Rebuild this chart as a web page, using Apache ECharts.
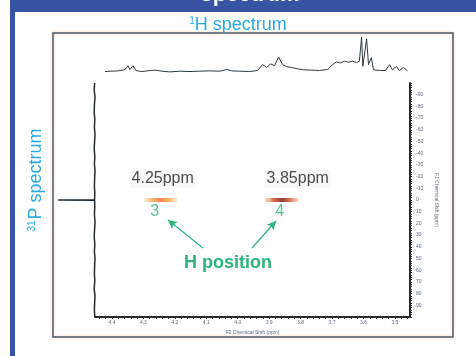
<!DOCTYPE html>
<html lang="en">
<head>
  <meta charset="UTF-8">
  <title>HP spectrum</title>
  <script src="https://cdn.jsdelivr.net/npm/echarts@6/dist/echarts.min.js"></script>
  <style>
    body { margin: 0; background: #fff; }
  </style>
</head>
<body>
  <div id="app" style="width: 476px; height: 356px;"></div>
  <script>
    // tick labels
    var xTicks = [4.4, 4.3, 4.2, 4.1, 4.0, 3.9, 3.8, 3.7, 3.6, 3.5]
    var yTicks = [-90, -80, -70, -60, -50, -40, -30, -20, -10, 0, 10, 20, 30, 40, 50, 60, 70, 80, 90]

    // 1H projection (F2 ppm, intensity)
    var topSpec = [
      [4.422, 0], [4.406, 0.01], [4.381, 0.02], [4.359, 0.05], [4.349, 0.17], [4.343, 0.06],
      [4.333, 0.17], [4.324, 0.03], [4.305, 0], [4.279, 0.03], [4.263, 0.04], [4.241, 0.01],
      [4.216, -0.01], [4.184, 0.01], [4.152, 0], [4.121, 0.01], [4.089, 0.02], [4.057, 0.01],
      [4.035, 0.06], [4.019, 0.02], [3.994, 0.01], [3.962, 0], [3.937, 0.03], [3.921, 0.2],
      [3.908, 0.12], [3.895, 0.22], [3.883, 0.17], [3.870, 0.42], [3.857, 0.2], [3.844, 0.14],
      [3.829, 0.12], [3.810, 0.08], [3.790, 0.05], [3.765, 0.04], [3.740, 0.03], [3.714, 0.06],
      [3.698, 0.2], [3.686, 0.28], [3.673, 0.25], [3.660, 0.3], [3.648, 0.27], [3.635, 0.3],
      [3.622, 0.26], [3.613, 0.3], [3.606, 1.0], [3.602, 0.15], [3.597, 0.1], [3.590, 0.95],
      [3.584, 0.2], [3.575, 0.4], [3.568, 0.05], [3.549, 0.03], [3.530, 0.03], [3.517, 0.2],
      [3.508, 0.05], [3.495, 0.15], [3.486, 0.03], [3.473, 0.12], [3.460, 0.02]
    ]

    // 31P projection (intensity, F1 ppm)
    var leftSpec = [
      [0.01, -100], [0.02, -94], [0.0, -88], [0.015, -81], [0.02, -75], [0.005, -69], [0.015, -62],
      [0.0, -56], [0.01, -50], [0.02, -44], [0.005, -37], [0.015, -31], [0.0, -25], [0.01, -18],
      [0.015, -12], [0.005, -6], [0.01, -0.2], [0.92, 0], [0.01, 0.2], [0.005, 6], [0.015, 12],
      [0.0, 19], [0.01, 25], [0.02, 31], [0.005, 38], [0.015, 44], [0.0, 50], [0.01, 57],
      [0.015, 63], [0.005, 69], [0.02, 76], [0.0, 82], [0.01, 88], [0.015, 94], [0.005, 100]
    ]

    // cross peaks (F2, F1)
    var crossPeaks = [[4.245, 0], [3.86, 0]]
    var peakLabels = ['4.25ppm', '3.85ppm']
    var hPositions = ['3', '4']

    var green = '#2db57c'
    var axisGray = '#5b6b82'

    // dense tick marks along the frame axes
    var denseX = []
    for (var i = 0; i <= 50; i++) denseX.push(+(3.46 + i * 0.02).toFixed(2))
    var denseY = []
    for (var j = 0; j <= 100; j++) denseY.push(-100 + j * 2)

    var peakColors = [
      ['rgba(250,190,90,0.35)', '#f4a040', '#ea6a2c', '#f4a040', 'rgba(250,190,90,0.35)'],
      ['rgba(240,140,80,0.4)', '#d64a2a', '#6e0c0c', '#d64a2a', 'rgba(240,140,80,0.4)']
    ]
    function grad(c) {
      return new echarts.graphic.LinearGradient(0, 0, 1, 0, [
        { offset: 0, color: c[0] }, { offset: 0.25, color: c[1] }, { offset: 0.5, color: c[2] },
        { offset: 0.75, color: c[3] }, { offset: 1, color: c[4] }
      ])
    }

    var mCharts = echarts.init(document.querySelector('#app'))

    var option = {
      backgroundColor: '#fff',
      animation: false,
      grid: [
        { left: 95, top: 83, width: 315, height: 234 },  // 2D
        { left: 95, top: 37, width: 315, height: 38 },   // 1H
        { left: 55, top: 83, width: 40, height: 234 }    // 31P
      ],
      xAxis: [
        {
          gridIndex: 0, type: 'value', inverse: true, min: 3.452, max: 4.454,
          axisLine: { show: true, onZero: false, lineStyle: { color: '#2b2b2b', width: 2 } },
          axisTick: { show: true, customValues: denseX, length: 2, lineStyle: { color: '#333' } },
          axisLabel: { customValues: xTicks, fontSize: 5, color: axisGray, margin: 3,
            formatter: function (v) { return v.toFixed(1) } },
          splitLine: { show: false },
          name: 'F2 Chemical Shift (ppm)', nameLocation: 'middle', nameGap: 11,
          nameTextStyle: { fontSize: 5, color: axisGray }
        },
        { gridIndex: 1, type: 'value', inverse: true, min: 3.452, max: 4.454, show: false },
        { gridIndex: 2, type: 'value', inverse: true, min: 0, max: 1, show: false }
      ],
      yAxis: [
        {
          gridIndex: 0, type: 'value', inverse: true, min: -100, max: 100, position: 'right',
          axisLine: { show: true, onZero: false, lineStyle: { color: '#2b2b2b', width: 2 } },
          axisTick: { show: true, customValues: denseY, length: 2, lineStyle: { color: '#333' } },
          axisLabel: { customValues: yTicks, fontSize: 5, color: axisGray, margin: 6 },
          splitLine: { show: false },
          name: 'F1 Chemical Shift (ppm)', nameLocation: 'middle', nameGap: 22, nameRotate: -90,
          nameTextStyle: { fontSize: 5, color: axisGray }
        },
        { gridIndex: 1, type: 'value', min: -0.1, max: 1, show: false },
        { gridIndex: 2, type: 'value', inverse: true, min: -100, max: 100, show: false }
      ],
      series: [
        {
          type: 'line', xAxisIndex: 1, yAxisIndex: 1, data: topSpec, symbol: 'none',
          lineStyle: { color: '#2e3a40', width: 1 }, silent: true
        },
        {
          type: 'line', xAxisIndex: 2, yAxisIndex: 2, data: leftSpec, symbol: 'none',
          lineStyle: { color: '#1f2a30', width: 1.5 }, silent: true
        },
        {
          type: 'scatter', xAxisIndex: 0, yAxisIndex: 0, symbol: 'rect', symbolSize: [33, 4],
          silent: true,
          data: crossPeaks.map(function (p, k) {
            return {
              value: p,
              itemStyle: { color: grad(peakColors[k]) },
              label: {
                show: true, position: 'inside', formatter: peakLabels[k],
                offset: k === 0 ? [2, -21] : [16, -21],
                fontSize: 16, color: '#222', fontFamily: 'Liberation Sans, Arial',
                backgroundColor: '#f6f6f6', padding: [1, 2]
              }
            }
          })
        },
        {
          type: 'scatter', xAxisIndex: 0, yAxisIndex: 0, symbol: 'circle', symbolSize: 1,
          itemStyle: { color: 'rgba(0,0,0,0)' }, silent: true,
          data: crossPeaks.map(function (p, k) {
            return {
              value: p,
              label: {
                show: true, position: 'inside', formatter: hPositions[k],
                offset: k === 0 ? [-6, 12] : [-2, 12],
                fontSize: 16, color: green, fontFamily: 'Liberation Sans, Arial'
              }
            }
          }),
          markLine: {
            silent: true, symbol: ['none', 'arrow'], symbolSize: [7, 9],
            lineStyle: { color: green, width: 1.3, type: 'solid' },
            label: { show: false },
            data: [
              [{ x: 203, y: 248 }, { x: 168, y: 220 }],
              [{ x: 252, y: 248 }, { x: 276, y: 221 }]
            ]
          }
        }
      ],
      graphic: [
        { type: 'rect', z: -10, shape: { x: 10, y: 0, width: 466, height: 12 }, style: { fill: '#3953a4' } },
        { type: 'rect', z: -10, shape: { x: 10, y: 12, width: 5, height: 344 }, style: { fill: '#3953a4' } },
        {
          type: 'text', x: 250, y: -5,
          style: { text: 'spectrum', fill: '#fff', font: 'bold 22px Liberation Sans, Arial', align: 'center', verticalAlign: 'middle' }
        },
        {
          type: 'rect', shape: { x: 53, y: 33, width: 400, height: 304 },
          style: { fill: 'none', stroke: '#4f5d6a', lineWidth: 1.5, shadowColor: 'rgba(240,140,90,0.45)', shadowBlur: 3 }
        },
        {
          type: 'text', x: 238, y: 25,
          style: {
            text: '{s|1}H spectrum', fill: '#29abe2', font: '18px Liberation Sans, Arial',
            align: 'center', verticalAlign: 'middle',
            rich: { s: { fontSize: 10, verticalAlign: 'top', fill: '#29abe2', padding: [0, 0, 8, 0] } }
          }
        },
        {
          type: 'text', x: 36, y: 180, rotation: Math.PI / 2,
          style: {
            text: '{s|31}P spectrum', fill: '#29abe2', font: '18px Liberation Sans, Arial',
            align: 'center', verticalAlign: 'middle',
            rich: { s: { fontSize: 10, fill: '#29abe2', padding: [0, 1, 8, 0] } }
          }
        },
        {
          type: 'text', x: 228, y: 263,
          style: { text: 'H position', fill: green, font: 'bold 18px Liberation Sans, Arial', align: 'center', verticalAlign: 'middle' }
        }
      ]
    }
    mCharts.setOption(option)
  </script>
</body>
</html>
